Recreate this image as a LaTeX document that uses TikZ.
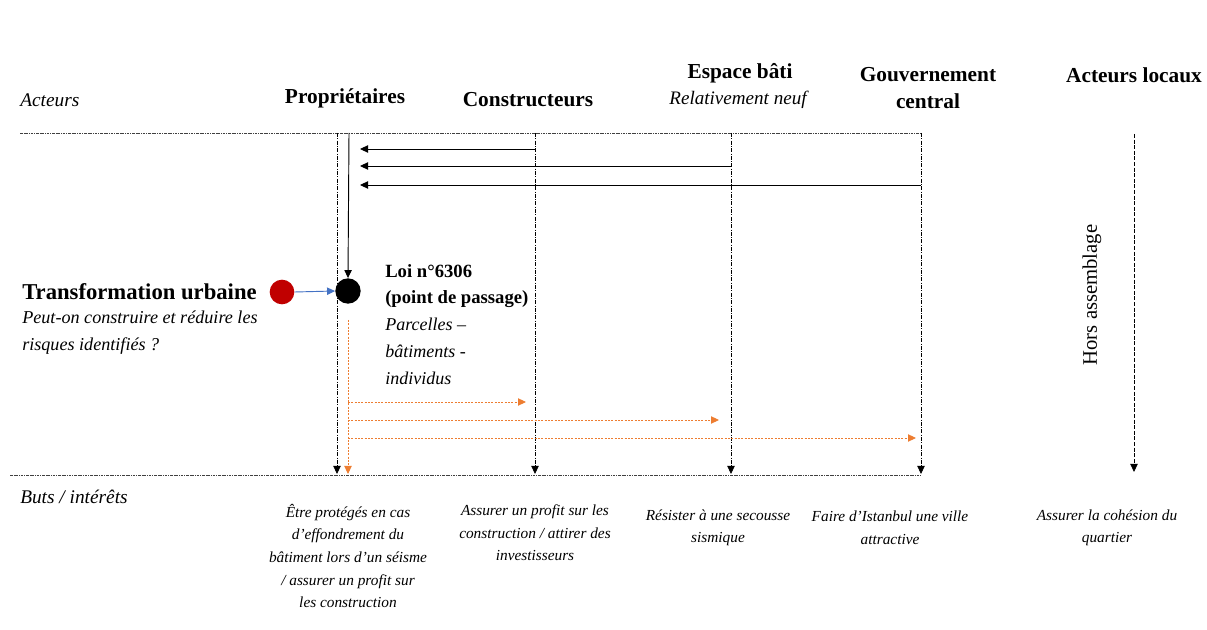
\documentclass[tikz,border=0pt]{standalone}
\usepackage{fontspec}
\setmainfont{Liberation Serif}
\usetikzlibrary{arrows.meta}
\definecolor{dotred}{HTML}{C00000}
\definecolor{arrblue}{HTML}{4472C4}
\definecolor{orng}{HTML}{ED7D31}
\begin{document}
\begin{tikzpicture}[x=0.75pt,y=-0.75pt,
  head/.style={font=\fontsize{16}{20}\selectfont\bfseries, align=center, inner sep=0pt},
  lab/.style={font=\fontsize{14.5}{17}\selectfont\itshape, inner sep=0pt},
  goal/.style={font=\fontsize{11.5}{16.9}\selectfont\itshape, align=center, inner sep=0pt},
  frame/.style={line width=0.5pt, black!75, dash pattern=on 2pt off 0.7pt on 0.6pt off 0.7pt},
  actline/.style={line width=0.6pt, black, dash pattern=on 3pt off 1pt on 0.7pt off 1pt, -{Triangle[length=6pt,width=5.5pt]}},
  blk/.style={line width=0.7pt, black, -{Triangle[length=6pt,width=5.5pt]}},
  org/.style={line width=0.7pt, orng, dash pattern=on 1.5pt off 1pt, -{Triangle[length=6pt,width=5.5pt]}},
  dot/.style={circle, inner sep=0pt, minimum size=18.5pt}
]
\useasboundingbox (0,0) rectangle (1207,630);

% headings
\node[lab, anchor=west] (act) at (20,100) {Acteurs};
\node[head] (prop) at (345,98) {Propriétaires};
\node[head] (cons) at (528,100) {Constructeurs};
\node[head] (esp) at (740,73) {Espace bâti};
\node[lab, font=\fontsize{14.3}{17}\selectfont\itshape] (espsub) at (738,100) {Relativement neuf};
\node[head] (gouv) at (928,88) {Gouvernement\\central};
\node[head] (loc) at (1134,75) {Acteurs locaux};

% frame lines
\coordinate (fTL) at (20,133);
\coordinate (fTR) at (921,133);
\coordinate (fBL) at (10,475);
\coordinate (fBR) at (921,475);
\draw[frame] (fTL) -- (fTR);
\draw[frame] (fBL) -- (fBR);

% actor lines
\coordinate (pT) at (337,133); \coordinate (pB) at (337,474);
\coordinate (cT) at (535,133); \coordinate (cB) at (535,474);
\coordinate (eT) at (731,133); \coordinate (eB) at (731,474);
\coordinate (gT) at (921,133); \coordinate (gB) at (921,474);
\coordinate (lT) at (1134,134); \coordinate (lB) at (1134,472);
\draw[actline] (pT) -- (pB);
\draw[actline] (cT) -- (cB);
\draw[actline] (eT) -- (eB);
\draw[actline] (gT) -- (gB);
\draw[actline, dash pattern=on 3pt off 1.2pt] (lT) -- (lB);

% left arrows
\coordinate (a1s) at (535,149); \coordinate (a1e) at (360,149);
\coordinate (a2s) at (731,166); \coordinate (a2e) at (360,166);
\coordinate (a3s) at (921,185); \coordinate (a3e) at (360,185);
\draw[blk] (a1s) -- (a1e);
\draw[blk] (a2s) -- (a2e);
\draw[blk] (a3s) -- (a3e);

% dots
\node[dot, fill=dotred] (red) at (282,292) {};
\node[dot, fill=black, minimum size=19pt] (pp) at (348,291) {};
\coordinate (ppTop) at (349,133);
\draw[blk] (ppTop) -- (pp.north);
\draw[line width=0.7pt, arrblue, -{Triangle[length=6pt,width=5.5pt]}] (red.east) -- (pp.west);

% transformation text
\node[anchor=west, inner sep=0pt, font=\fontsize{17}{20}\selectfont\bfseries] (tu) at (22,292) {Transformation urbaine};
\node[anchor=north west, align=left, inner sep=0pt, font=\fontsize{13.6}{20.3}\selectfont\itshape] (q) at (22,311) {Peut-on construire et réduire les\\risques identifiés ?};

% loi text
\node[anchor=north west, align=left, inner sep=0pt, font=\fontsize{14}{19.5}\selectfont\bfseries] (loi) at (385,264) {Loi n°6306\\(point de passage)};
\node[anchor=north west, align=left, inner sep=0pt, font=\fontsize{13.5}{20.3}\selectfont\itshape] (parc) at (385,318) {Parcelles –\\bâtiments -\\individus};

% orange arrows
\coordinate (oT) at (348,320); \coordinate (oB) at (348,474);
\draw[org] (oT) -- (oB);
\coordinate (o1s) at (348,402); \coordinate (o1e) at (526,402);
\coordinate (o2s) at (348,420); \coordinate (o2e) at (719,420);
\coordinate (o3s) at (348,438); \coordinate (o3e) at (916,438);
\draw[org] (o1s) -- (o1e);
\draw[org] (o2s) -- (o2e);
\draw[org] (o3s) -- (o3e);

% hors assemblage
\node[rotate=90, inner sep=0pt, font=\fontsize{15.5}{18}\selectfont] (hors) at (1092,295) {Hors assemblage};

% bottom
\node[lab, anchor=west] (buts) at (20,497) {Buts / intérêts};
\node[goal] (g1) at (348,556) {Être protégés en cas\\d’effondrement du\\bâtiment lors d’un séisme\\/ assurer un profit sur\\les construction};
\node[goal] (g2) at (535,533) {Assurer un profit sur les\\construction / attirer des\\investisseurs};
\node[goal] (g3) at (718,528) {Résister à une secousse\\sismique};
\node[goal] (g4) at (890,528) {Faire d’Istanbul une ville\\attractive};
\node[goal] (g5) at (1107,528) {Assurer la cohésion du\\quartier};
\end{tikzpicture}
\end{document}
